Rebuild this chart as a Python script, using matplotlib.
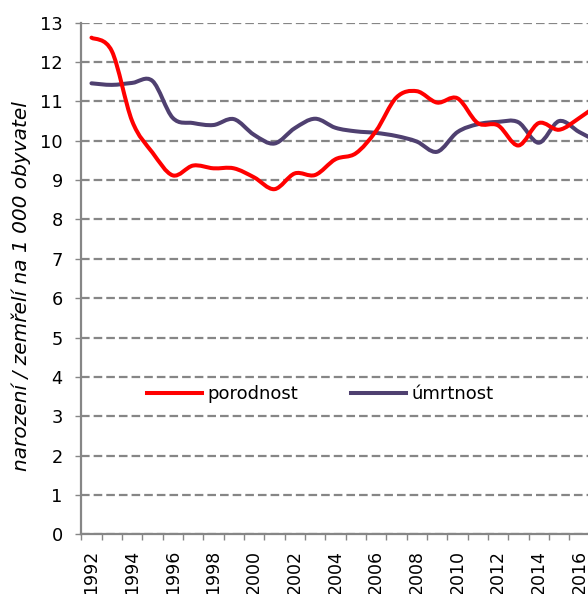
import matplotlib
matplotlib.use("Agg")
import matplotlib.pyplot as plt
import matplotlib.transforms as mtransforms
from matplotlib.path import Path
from matplotlib.patches import PathPatch
from matplotlib.lines import Line2D
import numpy as np

years = list(range(1992, 2018))
porodnost = [12.62, 12.28, 10.50, 9.70, 9.12, 9.37, 9.30, 9.30, 9.07, 8.77,
             9.17, 9.13, 9.53, 9.68, 10.25, 11.10, 11.26, 10.97, 11.08, 10.45,
             10.39, 9.88, 10.45, 10.28, 10.58, 10.95]
umrtnost = [11.46, 11.42, 11.47, 11.52, 10.58, 10.45, 10.40, 10.55, 10.15, 9.93,
            10.32, 10.56, 10.33, 10.24, 10.20, 10.12, 9.98, 9.72, 10.22, 10.42,
            10.48, 10.47, 9.95, 10.50, 10.22, 9.95]
labels = ["porodnost", "úmrtnost"]
colors = ["#FF0000", "#4F4070"]
ylabel = "narození / zemřelí na 1 000 obyvatel"

plt.rcParams['font.family'] = ['DejaVu Sans']
plt.rcParams['lines.scale_dashes'] = False

W, H = 588, 594
fig = plt.figure(figsize=(W / 100, H / 100), dpi=100)

left_px, top_px, bottom_px = 81.3, 22.7, 534.3
cat_w = 20.33
ncat = len(years)
ax = fig.add_axes([left_px / W, 1 - bottom_px / H, ncat * cat_w / W, (bottom_px - top_px) / H])

def smooth_path(xs, ys):
    pts = np.column_stack([xs, ys]).astype(float)
    n = len(pts)
    verts = [pts[0]]
    codes = [Path.MOVETO]
    for i in range(n - 1):
        p0 = pts[i - 1] if i > 0 else pts[i]
        p1 = pts[i]
        p2 = pts[i + 1]
        p3 = pts[i + 2] if i + 2 < n else pts[i + 1]
        c1 = p1 + (p2 - p0) / 6.0
        c2 = p2 - (p3 - p1) / 6.0
        verts += [c1, c2, p2]
        codes += [Path.CURVE4] * 3
    return Path(verts, codes)

xs = np.arange(ncat)
for vals, col in [(umrtnost, colors[1]), (porodnost, colors[0])]:
    patch = PathPatch(smooth_path(xs, vals), fill=False, edgecolor=col,
                      linewidth=2.9, capstyle='round', joinstyle='round',
                      transform=ax.transData, zorder=3)
    ax.add_patch(patch)

ax.set_xlim(-0.5, ncat - 0.5)
ax.set_ylim(0, 13)

gray = "#868686"
ax.set_yticks(range(0, 14))
ax.yaxis.grid(True, color=gray, linewidth=1.6, linestyle=(0, (6.2, 2.9)))
ax.set_axisbelow(True)

ax.set_xticks(np.arange(-0.5, ncat, 1.0))
ax.set_xticklabels([])
ax.set_xticks(xs[::2], minor=True)
ax.set_xticklabels([str(y) for y in years[::2]], minor=True, rotation=90,
                   fontsize=12.5, va='top', ha='center')
shift = mtransforms.ScaledTranslation(3 / 100, 0, fig.dpi_scale_trans)
for lab in ax.get_xticklabels(minor=True):
    lab.set_transform(lab.get_transform() + shift)
ax.tick_params(axis='x', which='major', length=4.2, width=1.0, color=gray, direction='out')
ax.tick_params(axis='x', which='minor', length=0, pad=11.2)
ax.tick_params(axis='y', which='major', length=4.2, width=1.0, color=gray,
               direction='out', labelsize=12.8, pad=9.2)

for s in ['top', 'right']:
    ax.spines[s].set_visible(False)
for s in ['left', 'bottom']:
    ax.spines[s].set_color(gray)
    ax.spines[s].set_linewidth(1.6)

fig.text(21 / W, 1 - 286 / H, ylabel, rotation=90, ha='center', va='center',
         fontsize=14.5, style='italic')

handles = [Line2D([], [], color=colors[0], linewidth=2.9),
           Line2D([], [], color=colors[1], linewidth=2.9)]
fig.legend(handles, labels, loc='center left',
           bbox_to_anchor=(147 / W, 1 - 394 / H), ncol=2, frameon=False,
           fontsize=13, handlelength=3.05, handletextpad=0.3,
           columnspacing=2.9, borderpad=0, borderaxespad=0)

fig.savefig("out.png", dpi=100)
